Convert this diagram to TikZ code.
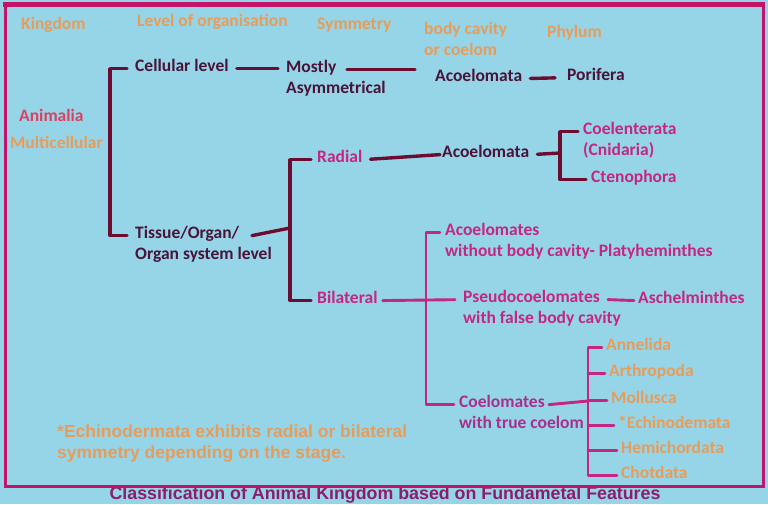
\documentclass[tikz,border=0pt]{standalone}
\usepackage{fontspec}
\setmainfont{Carlito}
\newfontfamily\arialfont{Liberation Sans}
\usetikzlibrary{calc}

\definecolor{skyblue}{HTML}{96D5E8}
\definecolor{frame}{HTML}{C4146A}
\definecolor{maroon}{HTML}{6C0C30}
\definecolor{plum}{HTML}{4A1438}
\definecolor{magent}{HTML}{C42682}
\definecolor{coelpurple}{HTML}{A8308A}
\definecolor{peach}{HTML}{E89C5A}
\definecolor{rosered}{HTML}{DE3F60}
\definecolor{capt}{HTML}{8E1C6C}

% two lines, baseline on the first one
\newcommand{\stacked}[2]{\begin{tabular}[t]{@{}l@{}}#1\\#2\end{tabular}}

\begin{document}
\begin{tikzpicture}[x=1pt, y=-1pt,
    lbl/.style={anchor=base west, inner sep=2pt,
        font=\bfseries\fontsize{17.5}{21}\selectfont},
    head/.style={lbl, text=peach},
    darktxt/.style={lbl, text=plum},
    pinktxt/.style={lbl, text=magent},
    phylum/.style={lbl, text=peach},
    darkline/.style={draw=maroon, line width=3.4pt, line cap=round, line join=round},
    pinkline/.style={draw=magent, line width=2.9pt, line cap=round, line join=round},
    gap/.style={shorten <=#1, shorten >=#1}]

    % Background
    \fill[skyblue] (0,0) rectangle (768,504);
    \useasboundingbox (0,0) rectangle (768,504);

    % Caption, partly under the frame
    \node[text=capt, font=\arialfont\bfseries\fontsize{17.8}{20}\selectfont, anchor=base] (caption) at (385,499) {Classification of Animal Kingdom based on Fundametal Features};

    % Frame
    \draw[frame, line width=3pt] (5,5) rectangle (763.5,486);
    \draw[frame, line width=5pt] (3,4) -- (765,4);

    % Column headings
    \node[head] (kingdom) at (19,29) {Kingdom};
    \node[head] (level) at (135,26) {Level of organisation};
    \node[head] (symm) at (315,29) {Symmetry};
    \node[head] (cavity) at (422,34) {\stacked{body cavity}{or coelom}};
    \node[head] (phylum) at (545,37) {Phylum};

    % Kingdom
    \node[lbl, text=rosered] (animalia) at (17,121) {Animalia};
    \node[head] (multi) at (8,148) {Multicellular};

    % Level of organisation
    \node[darktxt] (cell) at (133,71) {Cellular level};
    \node[darktxt] (tissue) at (133,238) {\stacked{Tissue/Organ/}{Organ system level}};
    \coordinate (kjoin) at (110,150);
    \draw[darkline, gap=6pt] (cell.mid west) -| (kjoin) |- (tissue.mid west);

    % Symmetry
    \node[darktxt] (mostly) at (284,72) {\stacked{Mostly}{Asymmetrical}};
    \draw[darkline, gap=6pt] (cell.mid east) -- (cell.mid east -| mostly.mid west);
    \node[pinktxt] (radial) at (315,162) {Radial};
    \node[pinktxt] (bilat) at (315,303) {Bilateral};
    \coordinate (sjoin) at (290,228);
    \draw[darkline, gap=4pt] (radial.mid west) -| (sjoin) |- (bilat.mid west);
    \draw[darkline] ([xshift=119pt]tissue.mid west) -- (sjoin);

    % Body cavity
    \node[darktxt] (acoel1) at (433,81) {Acoelomata};
    \draw[darkline, shorten >=18pt] ([xshift=63pt]mostly.mid west) -- (acoel1.mid west |- mostly.mid west);
    \node[darktxt] (acoel2) at (440,157) {Acoelomata};
    \draw[darkline, shorten <=6pt] (radial.mid east) -- (acoel2.mid west);
    \node[pinktxt] (acoelS) at (443,235) {\stacked{Acoelomates}{without body cavity- Platyheminthes}};
    \node[pinktxt] (pseudo) at (461,302) {\stacked{Pseudocoelomates}{with false body cavity}};
    \node[lbl, text=coelpurple] (coelom) at (457,407) {\stacked{Coelomates}{with true coelom}};
    \coordinate (bjoin) at (426,300);
    \draw[pinkline, gap=3pt] (acoelS.mid west) -| (bjoin) |- (coelom.mid west);
    \draw[pinkline, shorten <=3pt, shorten >=6pt] (bilat.mid east) -- (pseudo.mid west);

    % Phylum
    \node[darktxt] (porif) at (565,80) {Porifera};
    \draw[darkline, shorten <=6pt, shorten >=10pt] (acoel1.mid east) -- (porif.mid west);
    \node[pinktxt] (coelent) at (581,134) {\stacked{Coelenterata}{(Cnidaria)}};
    \node[pinktxt] (cteno) at (589,182) {Ctenophora};
    \coordinate (cjoin) at (560,153);
    \draw[darkline, gap=3pt] (coelent.mid west) -| (cjoin) |- (cteno.mid west);
    \draw[darkline, shorten <=6pt] (acoel2.mid east) -- (cjoin);
    \node[pinktxt] (asch) at (636,303) {Aschelminthes};
    \draw[pinkline, shorten >=2pt] ([xshift=147pt]pseudo.mid west) -- (asch.mid west);

    \node[phylum] (annel) at (604,350) {Annelida};
    \node[phylum] (arthro) at (607,376) {Arthropoda};
    \node[phylum] (mollu) at (609,403) {Mollusca};
    \node[phylum] (echino) at (616,428) {*Echinodemata};
    \node[phylum] (hemi) at (619,453) {Hemichordata};
    \node[phylum] (chot) at (619,478) {Chotdata};
    \coordinate (pjoin) at (588,401);
    \draw[pinkline, gap=2pt] (annel.mid west) -| (pjoin) |- (chot.mid west);
    \draw[pinkline] ([xshift=92pt]coelom.mid west) -- (pjoin);
    \foreach \p in {arthro,mollu,echino,hemi}
        \draw[pinkline, shorten >=2pt] (\p.mid west -| pjoin) -- (\p.mid west);

    % Footnote
    \node[lbl, text=peach, font=\arialfont\bfseries\fontsize{17.5}{21}\selectfont] (note) at (55,437) {\stacked{*Echinodermata exhibits radial or bilateral}{symmetry depending on the stage.}};
\end{tikzpicture}
\end{document}
